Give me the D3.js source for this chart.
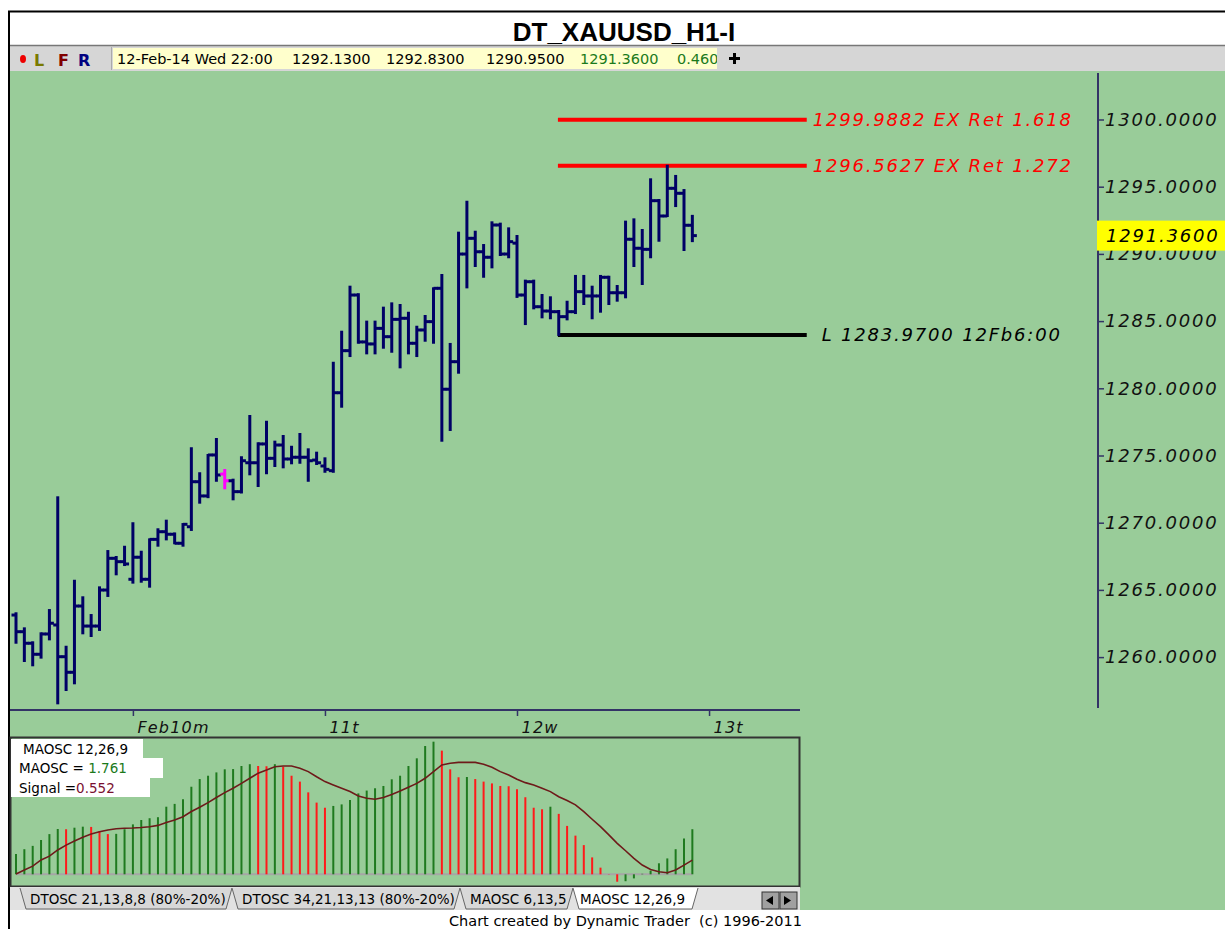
<!DOCTYPE html>
<html>
<head>
<meta charset="utf-8">
<script src="https://cdnjs.cloudflare.com/ajax/libs/d3/7.8.5/d3.min.js"></script>
<style>
    body { margin: 0; background: #fff; }
    svg { display: block; }
    .comic { font-family: "DejaVu Sans", sans-serif; font-style: italic; }
    .ui { font-family: "DejaVu Sans", sans-serif; }
</style>
</head>
<body>
<svg id="chart"></svg>
<script>
// ---- data ----
const symbol = "DT_XAUUSD_H1-I";

// hourly bars, oldest first (last one = 12-Feb-14 Wed 22:00)
const opens = [1263.13, 1261.89, 1261.03, 1260.21, 1261.72, 1262.39, 1260.03, 1258.87, 1263.80, 1262.31,
    1262.31, 1264.99, 1267.35, 1267.10, 1265.79, 1267.43, 1265.79, 1268.76, 1269.33, 1269.14,
    1268.47, 1269.70, 1273.05, 1271.99, 1275.04, 1273.62, 1273.12, 1272.31, 1274.46, 1274.46,
    1275.86, 1274.79, 1275.78, 1274.74, 1274.87, 1274.87, 1274.66, 1274.22, 1273.87, 1279.67,
    1282.80, 1286.94, 1283.45, 1283.30, 1284.46, 1283.84, 1285.13, 1285.21, 1283.35, 1284.34,
    1284.96, 1287.44, 1279.93, 1281.98, 1289.99, 1291.16, 1290.16, 1289.75, 1292.15, 1289.99,
    1290.80, 1286.94, 1287.93, 1286.07, 1285.75, 1285.70, 1285.33, 1285.70, 1287.19, 1286.87,
    1286.87, 1288.26, 1287.11, 1287.11, 1291.09, 1290.42, 1290.34, 1293.96, 1292.82, 1294.88,
    1294.51, 1292.13];
const highs = [1263.26, 1262.14, 1261.10, 1261.77, 1263.50, 1271.89, 1260.77, 1265.68, 1264.45, 1263.13,
    1265.19, 1267.89, 1267.45, 1268.21, 1269.96, 1267.84, 1268.76, 1269.51, 1270.15, 1269.20,
    1269.90, 1275.54, 1273.68, 1275.04, 1276.23, 1273.92, 1273.20, 1274.87, 1277.94, 1275.91,
    1277.51, 1276.03, 1276.45, 1275.65, 1276.60, 1275.46, 1275.21, 1274.79, 1281.90, 1284.21,
    1287.56, 1287.00, 1284.96, 1284.96, 1286.00, 1286.32, 1286.20, 1285.62, 1284.58, 1285.38,
    1287.44, 1288.43, 1283.30, 1291.58, 1293.88, 1291.65, 1290.66, 1292.35, 1292.25, 1291.90,
    1291.33, 1288.01, 1288.01, 1286.94, 1286.77, 1285.75, 1286.44, 1288.36, 1288.36, 1287.56,
    1288.36, 1288.30, 1287.61, 1292.40, 1292.57, 1291.78, 1295.55, 1294.01, 1296.56, 1295.80,
    1294.75, 1292.83];
const lows = [1261.07, 1259.71, 1259.39, 1259.96, 1261.32, 1256.56, 1257.55, 1258.05, 1261.77, 1261.57,
    1262.02, 1264.55, 1266.16, 1266.85, 1265.54, 1265.61, 1265.24, 1268.29, 1268.76, 1268.47,
    1268.29, 1269.46, 1271.49, 1271.90, 1273.12, 1272.56, 1271.74, 1272.25, 1273.60, 1272.73,
    1273.68, 1274.22, 1274.12, 1274.42, 1274.46, 1273.12, 1274.37, 1273.79, 1273.79, 1278.63,
    1282.40, 1283.39, 1282.60, 1282.60, 1283.02, 1282.72, 1281.56, 1282.60, 1282.40, 1283.54,
    1283.39, 1276.10, 1276.90, 1281.16, 1287.51, 1289.10, 1288.30, 1289.00, 1289.92, 1289.75,
    1286.80, 1284.78, 1285.95, 1285.28, 1285.21, 1283.97, 1285.13, 1285.60, 1286.27, 1285.21,
    1285.70, 1286.27, 1286.52, 1286.77, 1289.10, 1287.76, 1289.75, 1290.98, 1292.82, 1293.56,
    1290.29, 1290.95];
const closes = [1261.89, 1261.03, 1260.21, 1261.72, 1262.52, 1260.03, 1258.87, 1263.80, 1262.31, 1262.31,
    1264.99, 1267.35, 1267.10, 1266.93, 1267.43, 1265.79, 1268.76, 1269.33, 1269.14, 1268.47,
    1269.88, 1273.05, 1271.99, 1275.04, 1273.55, 1273.12, 1272.31, 1274.61, 1274.46, 1275.86,
    1274.79, 1275.78, 1274.74, 1274.87, 1274.87, 1274.61, 1274.46, 1273.97, 1279.67, 1282.80,
    1286.94, 1283.45, 1283.30, 1284.46, 1283.84, 1285.13, 1285.21, 1283.35, 1284.34, 1284.96,
    1287.44, 1279.93, 1281.98, 1289.99, 1291.16, 1290.16, 1289.75, 1292.15, 1289.99, 1290.91,
    1286.94, 1287.93, 1286.07, 1285.75, 1285.70, 1285.33, 1285.70, 1287.19, 1286.87, 1286.87,
    1288.26, 1287.11, 1287.11, 1291.09, 1290.42, 1290.34, 1293.96, 1292.82, 1294.88, 1294.51,
    1292.13, 1291.36];
const markedBar = 25;   // the magenta bar

// day separators on the time axis (bar index where the day starts)
const dayTicks = [14, 37, 60, 83];
const dayLabels = ["Feb10m", "11t", "12w", "13t"];

// price axis
const priceTicks = [1260, 1265, 1270, 1275, 1280, 1285, 1290, 1295, 1300];

// projection / low lines, drawn from bar 65 to the right
const levelPrices = [1299.9882, 1296.5627, 1283.97];
const levelLabels = ["1299.9882 EX Ret 1.618", "1296.5627 EX Ret 1.272", "L 1283.9700 12Fb6:00"];
const levelKinds = ["ext", "ext", "low"];
const levelFrom = 64.9;
const levelTo = 94.7;

// header line
const headerDate = "12-Feb-14 Wed 22:00";
const headerChange = "0.4600";

// MAOSC 12,26,9 panel
const maosc = [0.79, 0.98, 1.11, 1.34, 1.57, 1.77, 1.76, 1.82, 1.86, 1.85,
    1.69, 1.57, 1.58, 1.76, 1.95, 2.12, 2.19, 2.23, 2.64, 2.75,
    2.93, 3.42, 3.72, 3.85, 3.98, 4.10, 4.11, 4.23, 4.30, 4.23,
    4.22, 4.30, 4.20, 3.85, 3.62, 3.20, 2.80, 2.60, 2.67, 2.73,
    2.90, 3.16, 3.27, 3.36, 3.45, 3.71, 3.85, 4.23, 4.53, 5.01,
    5.18, 4.83, 4.10, 3.79, 3.80, 3.72, 3.62, 3.55, 3.45, 3.44,
    3.32, 3.01, 2.60, 2.54, 2.64, 2.36, 1.89, 1.51, 1.14, 0.66,
    0.26, 0.01, -0.29, -0.27, -0.16, 0.02, 0.14, 0.43, 0.62, 0.98,
    1.40, 1.761];
const signal = [0.01, 0.17, 0.32, 0.56, 0.71, 0.95, 1.14, 1.30, 1.45, 1.57,
    1.66, 1.73, 1.78, 1.80, 1.81, 1.83, 1.86, 1.91, 2.02, 2.12,
    2.25, 2.45, 2.62, 2.80, 3.00, 3.19, 3.36, 3.55, 3.75, 3.95,
    4.07, 4.20, 4.23, 4.23, 4.14, 4.01, 3.81, 3.62, 3.49, 3.36,
    3.23, 3.06, 2.97, 2.93, 3.00, 3.12, 3.25, 3.40, 3.55, 3.75,
    4.01, 4.27, 4.34, 4.37, 4.37, 4.37, 4.30, 4.18, 4.01, 3.88,
    3.71, 3.58, 3.49, 3.36, 3.23, 3.03, 2.88, 2.71, 2.45, 2.15,
    1.86, 1.54, 1.21, 0.92, 0.62, 0.36, 0.19, 0.10, 0.06, 0.17,
    0.36, 0.552];
const oscTitle = "MAOSC 12,26,9";

const tabLabels = ["DTOSC 21,13,8,8 (80%-20%)", "DTOSC 34,21,13,13 (80%-20%)", "MAOSC 6,13,5", "MAOSC 12,26,9"];
const activeTab = 3;
const footer = "Chart created by Dynamic Trader  (c) 1996-2011";

// ---- drawing ----
const width = 1225;
const height = 929;
const GREEN = "#99cc99";
const NAVY = "#000066";
const AXIS = "#333366";

const svg = d3.select("#chart")
    .attr("width", width)
    .attr("height", height);

svg.append("rect").attr("width", width).attr("height", height).attr("fill", "#fff");

// green chart body
svg.append("rect")
    .attr("x", 10).attr("y", 71)
    .attr("width", width - 10).attr("height", 839)
    .attr("fill", GREEN);

// title
svg.append("text")
    .attr("x", 624).attr("y", 41)
    .attr("text-anchor", "middle")
    .attr("font-family", "Liberation Sans, Arial, sans-serif")
    .attr("font-weight", "bold")
    .attr("font-size", 26)
    .text(symbol);

// toolbar strip
svg.append("rect")
    .attr("x", 10).attr("y", 46)
    .attr("width", width - 10).attr("height", 25)
    .attr("fill", "#d6d6d6");
svg.append("line")
    .attr("x1", 10).attr("x2", width)
    .attr("y1", 45.5).attr("y2", 45.5)
    .attr("stroke", "#777").attr("stroke-width", 1.5);

svg.append("ellipse").attr("cx", 23).attr("cy", 59).attr("rx", 3).attr("ry", 4).attr("fill", "#ee0000");
[["L", 34, "#7a7a00"], ["F", 58, "#800000"], ["R", 78, "#000080"]].forEach(([t, xx, c]) => {
    svg.append("text")
        .attr("class", "ui")
        .attr("x", xx).attr("y", 66)
        .attr("font-size", 16)
        .attr("font-weight", "bold")
        .attr("fill", c)
        .text(t);
});
svg.append("line")
    .attr("x1", 111.5).attr("x2", 111.5).attr("y1", 47).attr("y2", 70)
    .attr("stroke", "#aaa");

svg.append("defs").append("clipPath").attr("id", "hdrClip")
    .append("rect").attr("x", 113).attr("y", 47).attr("width", 604).attr("height", 23);
svg.append("rect")
    .attr("x", 113).attr("y", 48)
    .attr("width", 604).attr("height", 21)
    .attr("fill", "#ffffcc");

const last = opens.length - 1;
const fmt4 = d3.format(".4f");
const headerFields = [
    [headerDate, 117, "#000"],
    [fmt4(opens[last]), 292, "#000"],
    [fmt4(highs[last]), 386, "#000"],
    [fmt4(lows[last]), 486, "#000"],
    [fmt4(closes[last]), 580, "#1b7a1b"],
    [headerChange, 677, "#1b7a1b"]
];
const hdr = svg.append("g").attr("clip-path", "url(#hdrClip)");
headerFields.forEach(([t, xx, c]) => {
    hdr.append("text")
        .attr("class", "ui")
        .attr("x", xx).attr("y", 64)
        .attr("font-size", 14.5)
        .attr("fill", c)
        .text(t);
});
// the little cross button
svg.append("rect").attr("x", 729).attr("y", 57).attr("width", 11).attr("height", 3).attr("fill", "#000");
svg.append("rect").attr("x", 733).attr("y", 53).attr("width", 3).attr("height", 11).attr("fill", "#000");

// frame
svg.append("path")
    .attr("d", `M9,${height} V11.5 H${width}`)
    .attr("fill", "none")
    .attr("stroke", "#000")
    .attr("stroke-width", 2);

// ---- price panel ----
const x = d3.scaleLinear()
    .domain([0, 81])
    .range([16, 692.35]);

const y = d3.scaleLinear()
    .domain([1260, 1300])
    .range([657.1, 119.5]);

// price axis (right)
const yAxis = d3.axisRight(y)
    .tickValues(priceTicks)
    .tickSize(6)
    .tickPadding(1)
    .tickFormat(fmt4);

const yAxisG = svg.append("g")
    .attr("transform", "translate(1098,0)")
    .call(yAxis);
yAxisG.select(".domain").remove();
yAxisG.selectAll(".tick line").attr("stroke", AXIS).attr("stroke-width", 1.5);
yAxisG.selectAll(".tick text")
    .attr("class", "comic")
    .attr("font-size", 18)
    .attr("letter-spacing", 1.8)
    .attr("fill", "#111");
svg.append("line")
    .attr("x1", 1098).attr("x2", 1098)
    .attr("y1", 73).attr("y2", 708)
    .attr("stroke", AXIS).attr("stroke-width", 2);

// current price flag (sits over the 1290 label like in the original)
svg.append("rect")
    .attr("x", 1097).attr("y", y(closes[last]) - 15)
    .attr("width", width - 1097).attr("height", 30)
    .attr("fill", "#ffff00");
svg.append("text")
    .attr("class", "comic")
    .attr("x", 1106).attr("y", y(closes[last]))
    .attr("dy", "0.35em")
    .attr("font-size", 18)
    .attr("letter-spacing", 1.8)
    .attr("fill", "#000")
    .text(fmt4(closes[last]));

// time axis
const xAxis = d3.axisBottom(x)
    .tickValues(dayTicks)
    .tickSize(6)
    .tickFormat((d, i) => dayLabels[i]);

const xAxisG = svg.append("g")
    .attr("transform", "translate(0,710)")
    .call(xAxis);
xAxisG.select(".domain").remove();
xAxisG.selectAll(".tick line").attr("stroke", AXIS).attr("stroke-width", 1.5);
xAxisG.selectAll(".tick text")
    .attr("class", "comic")
    .attr("text-anchor", "start")
    .attr("x", 4)
    .attr("y", 12)
    .attr("font-size", 16)
    .attr("letter-spacing", 1.2)
    .attr("fill", "#111");
svg.append("line")
    .attr("x1", 10).attr("x2", 800)
    .attr("y1", 710).attr("y2", 710)
    .attr("stroke", AXIS).attr("stroke-width", 2);

// level lines
const levels = levelPrices.map((p, i) => ({ p, label: levelLabels[i], kind: levelKinds[i] }));
const levelG = svg.append("g");
levelG.selectAll("line")
    .data(levels)
    .join("line")
    .attr("x1", x(levelFrom))
    .attr("x2", x(levelTo))
    .attr("y1", d => y(d.p))
    .attr("y2", d => y(d.p))
    .attr("stroke", d => d.kind === "low" ? "#000" : "#ff0000")
    .attr("stroke-width", 4);
levelG.selectAll("text")
    .data(levels)
    .join("text")
    .attr("class", "comic")
    .attr("x", d => x(levelTo) + (d.kind === "low" ? 15 : 6))
    .attr("y", d => y(d.p))
    .attr("dy", "0.36em")
    .attr("font-size", 18)
    .attr("letter-spacing", 1.8)
    .attr("fill", d => d.kind === "low" ? "#000" : "#ff0000")
    .text(d => d.label);

// OHLC bars
const bars = opens.map((o, i) => ({ i, o, h: highs[i], l: lows[i], c: closes[i] }));

svg.append("defs").append("clipPath").attr("id", "plotClip")
    .append("rect").attr("x", 10).attr("y", 71).attr("width", 1088).attr("height", 637);

const barG = svg.append("g").attr("clip-path", "url(#plotClip)");
barG.selectAll("g")
    .data(bars)
    .join("g")
    .attr("stroke", d => d.i === markedBar ? "#ff00ff" : NAVY)
    .attr("stroke-width", 3)
    .each(function (d) {
        const g = d3.select(this);
        const cx = x(d.i);
        g.append("line").attr("x1", cx).attr("x2", cx).attr("y1", y(d.h) - 1).attr("y2", y(d.l) + 1);
        g.append("line").attr("x1", cx - 4.5).attr("x2", cx).attr("y1", y(d.o)).attr("y2", y(d.o));
        g.append("line").attr("x1", cx).attr("x2", cx + 4.5).attr("y1", y(d.c)).attr("y2", y(d.c));
    });

// ---- oscillator panel ----
const yO = d3.scaleLinear()
    .domain([-0.5, 5.3])
    .range([887.1, 738.6]);

svg.append("rect")
    .attr("x", 10.5).attr("y", 737.5)
    .attr("width", 789).attr("height", 149)
    .attr("fill", GREEN)
    .attr("stroke", "#333")
    .attr("stroke-width", 2);

svg.append("line")
    .attr("x1", x(0)).attr("x2", x(last))
    .attr("y1", yO(0)).attr("y2", yO(0))
    .attr("stroke", "#a6a6a6")
    .attr("stroke-width", 2);

svg.append("g")
    .selectAll("line")
    .data(maosc)
    .join("line")
    .attr("x1", (d, i) => x(i))
    .attr("x2", (d, i) => x(i))
    .attr("y1", yO(0))
    .attr("y2", d => yO(d))
    .attr("stroke", (d, i) => i > 0 && d < maosc[i - 1] ? "#ff1a1a" : "#1f7a1f")
    .attr("stroke-width", 2);

const sigLine = d3.line()
    .x((d, i) => x(i))
    .y(d => yO(d));

svg.append("path")
    .datum(signal)
    .attr("d", sigLine)
    .attr("fill", "none")
    .attr("stroke", "#6e1a1a")
    .attr("stroke-width", 1.6);

// legend box
svg.append("rect").attr("x", 11).attr("y", 739).attr("width", 132).attr("height", 19).attr("fill", "#fff");
svg.append("rect").attr("x", 11).attr("y", 758).attr("width", 152).attr("height", 20).attr("fill", "#fff");
svg.append("rect").attr("x", 11).attr("y", 778).attr("width", 139).attr("height", 19).attr("fill", "#fff");

svg.append("text").attr("class", "ui").attr("x", 23).attr("y", 754)
    .attr("font-size", 13.5).attr("fill", "#000").text(oscTitle);

const leg2 = svg.append("text").attr("class", "ui").attr("x", 19).attr("y", 773).attr("font-size", 13.5);
leg2.append("tspan").attr("fill", "#000").text("MAOSC = ");
leg2.append("tspan").attr("fill", "#1b7a1b").text(d3.format(".3f")(maosc[last]));

const leg3 = svg.append("text").attr("class", "ui").attr("x", 19).attr("y", 793).attr("font-size", 13.5);
leg3.append("tspan").attr("fill", "#000").text("Signal =");
leg3.append("tspan").attr("fill", "#7a1030").text(d3.format(".3f")(signal[last]));

// ---- tab strip ----
svg.append("rect")
    .attr("x", 10).attr("y", 887)
    .attr("width", 790).attr("height", 23)
    .attr("fill", "#e2e2e2");

const tabEdges = [20, 232, 460, 573, 698];
const tabG = svg.append("g");
tabLabels.forEach((t, i) => {
    const x0 = tabEdges[i];
    const x1 = tabEdges[i + 1];
    tabG.append("path")
        .attr("d", `M${x0},888 L${x0 + 6},909 L${x1 - 6},909 L${x1},888`)
        .attr("fill", i === activeTab ? "#fff" : "#d8d8d8")
        .attr("stroke", "#666")
        .attr("stroke-width", 1);
    tabG.append("text")
        .attr("class", "ui")
        .attr("x", x0 + (i === activeTab ? 7 : 10))
        .attr("y", 904)
        .attr("font-size", 13.5)
        .attr("fill", "#000")
        .text(t);
});

// scroll buttons
[[762, "M773,896 L766,900.5 L773,905 Z"], [780, "M784,896 L791,900.5 L784,905 Z"]].forEach(([bx, arrow]) => {
    svg.append("rect")
        .attr("x", bx).attr("y", 892)
        .attr("width", 17).attr("height", 17)
        .attr("fill", "#a0a0a0")
        .attr("stroke", "#333");
    svg.append("path").attr("d", arrow).attr("fill", "#000");
});

svg.append("text")
    .attr("class", "ui")
    .attr("x", 802).attr("y", 926)
    .attr("text-anchor", "end")
    .attr("font-size", 14.5)
    .attr("fill", "#000")
    .style("white-space", "pre")
    .text(footer);
</script>
</body>
</html>
